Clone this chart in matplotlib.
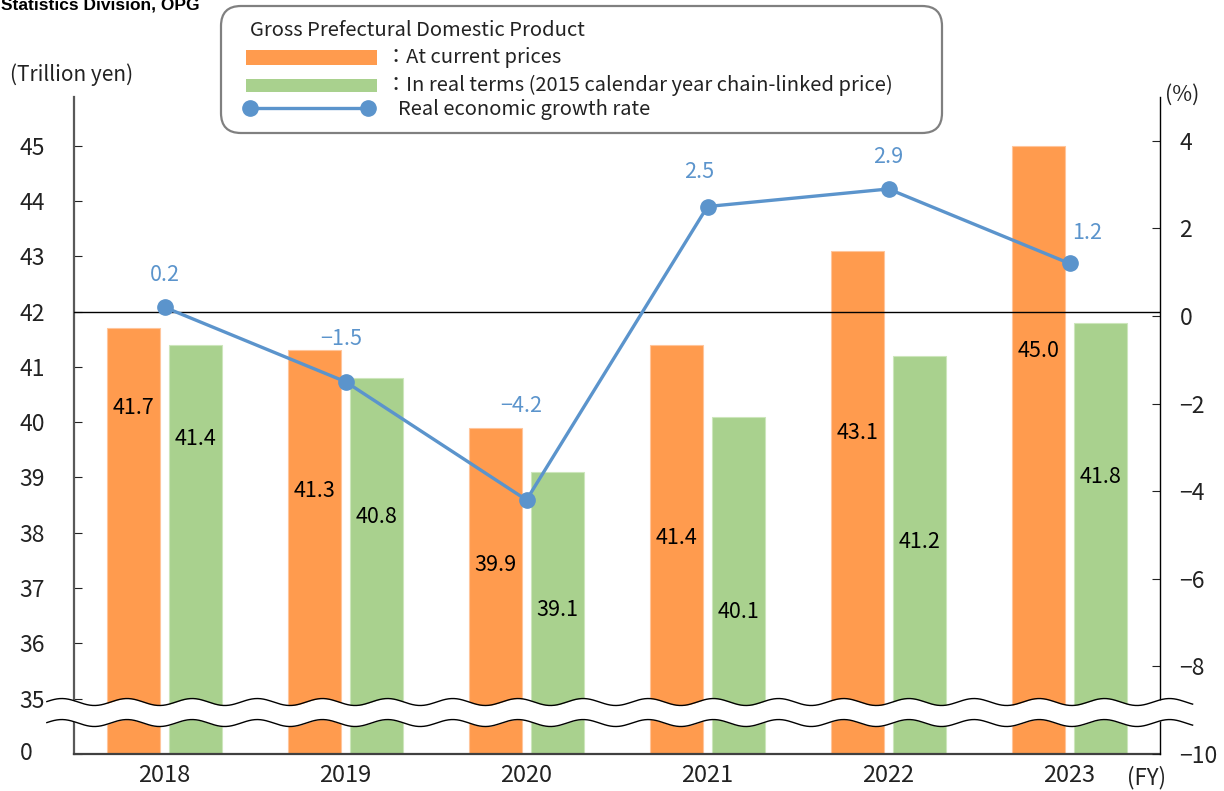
import numpy as np
import matplotlib.pyplot as plt
import matplotlib.transforms as mtransforms
from matplotlib.patches import FancyBboxPatch, Rectangle
from matplotlib.lines import Line2D

plt.rcParams['font.family'] = ['Noto Sans CJK JP', 'DejaVu Sans']

years = ["2018", "2019", "2020", "2021", "2022", "2023"]
nominal = [41.7, 41.3, 39.9, 41.4, 43.1, 45.0]
real = [41.4, 40.8, 39.1, 40.1, 41.2, 41.8]
growth = [0.2, -1.5, -4.2, 2.5, 2.9, 1.2]

# where the value labels sit inside the bars (left-axis units)
nominal_label_y = [40.26, 38.75, 37.42, 37.91, 39.81, 41.28]
real_label_y = [39.70, 38.29, 36.61, 36.56, 37.84, 39.00]
# offsets (points) of the growth labels from their markers
growth_label_off = [(0, 23), (-3, 31), (-4, 68), (-6, 25), (0, 23), (13, 22)]

ORANGE = "#FF9B4E"
GREEN = "#A9D18E"
BLUE = "#5B94CC"

BREAK = 34  # the "0" of the broken left axis sits here

W, H = 1224, 791


def px(x, y):
    return x / W, 1 - y / H


def minus(s):
    return s.replace("-", "\u2212")


fig = plt.figure(figsize=(W / 100, H / 100), dpi=100)
ax = fig.add_axes([74 / W, 1 - 754 / H, (1160 - 74) / W, (754 - 97) / H])
ax2 = ax.twinx()

x = np.arange(len(years))
bw = 0.295
off = 0.17

ax.bar(x - off, np.array(nominal) - BREAK, bw, bottom=BREAK, color=ORANGE,
       edgecolor="#FFC59B", linewidth=0.8, zorder=2)
ax.bar(x + off, np.array(real) - BREAK, bw, bottom=BREAK, color=GREEN,
       edgecolor="#CDE6BC", linewidth=0.8, zorder=2)

for i in range(len(years)):
    ax.text(x[i] - off, nominal_label_y[i], f"{nominal[i]:.1f}", ha="center",
            va="center", fontsize=15.5, zorder=4)
    ax.text(x[i] + off, real_label_y[i], f"{real[i]:.1f}", ha="center",
            va="center", fontsize=15.5, zorder=4)

ax.axhline(42, color="black", lw=1, zorder=3)

ax.set_xlim(-0.5, len(years) - 0.5)
ax.set_ylim(BREAK, 45.88)
ax.set_yticks([BREAK] + list(range(35, 46)))
ax.set_yticklabels([""] + [str(v) for v in range(35, 46)])
ax.set_xticks(x)
ax.set_xticklabels(years)
ax.tick_params(axis="y", direction="in", length=6, pad=21, labelsize=16.5,
               colors="#222222")
ax.tick_params(axis="x", length=0, pad=7, labelsize=17, colors="#222222")

for s in ["top", "right"]:
    ax.spines[s].set_visible(False)
ax.spines["left"].set_color("#595959")
ax.spines["left"].set_linewidth(1.6)
ax.spines["bottom"].set_color("#404040")
ax.spines["bottom"].set_linewidth(1.6)

ax2.plot(x, growth, color=BLUE, lw=2.4, marker="o", markersize=11, zorder=5)
for i, g in enumerate(growth):
    ax2.annotate(minus(f"{g:.1f}"), (x[i], g), xytext=growth_label_off[i],
                 textcoords="offset points", ha="center", va="center",
                 color=BLUE, fontsize=15.5)
ax2.set_ylim(-10, 5)
ax2.set_yticks(range(-10, 5, 2))
ax2.set_yticklabels([minus(str(v)) for v in range(-10, 5, 2)])
ax2.tick_params(axis="y", direction="in", length=6, pad=14, labelsize=16.5,
                colors="#222222")
for s in ["top", "left", "bottom"]:
    ax2.spines[s].set_visible(False)
ax2.spines["right"].set_color("black")
ax2.spines["right"].set_linewidth(1)

# wavy axis break across the plot
tr = mtransforms.blended_transform_factory(ax2.transAxes, ax.transData)
xs = np.linspace(-0.025, 1.03, 800)
wave = 0.063 * np.sin(2 * np.pi * xs / 0.06 - 3.54)
top = 34.94 + wave
bot = 34.56 + wave
ax2.fill_between(xs, bot, top, color="white", transform=tr, clip_on=False,
                 zorder=10, lw=0)
ax2.plot(xs, top, color="black", lw=1, transform=tr, clip_on=False, zorder=11)
ax2.plot(xs, bot, color="black", lw=1, transform=tr, clip_on=False, zorder=11)

# axis captions
fig.text(*px(20, 754), "0", ha="left", va="center", fontsize=16.5,
         color="#222222")
fig.text(*px(10, 75), "(Trillion yen)", ha="left", va="center", fontsize=15,
         color="#222222")
fig.text(*px(1165, 95), "(%)", ha="left", va="center", fontsize=15.5,
         color="#222222")
fig.text(*px(1127, 778), "(FY)", ha="left", va="center", fontsize=16,
         color="#222222")
fig.text(*px(1, 10), "Statistics Division, OPG", ha="left", va="baseline",
         fontsize=12.5, fontweight="bold", family="Liberation Sans")

# hand-made legend box
box = FancyBboxPatch((2.21, (H - 133) / 100), 7.21, 1.27,
                     boxstyle="round,pad=0,rounding_size=0.2",
                     transform=fig.dpi_scale_trans, facecolor="white",
                     edgecolor="#808080", lw=1.6, zorder=20)
fig.patches.append(box)
fig.text(*px(250, 31), "Gross Prefectural Domestic Product", ha="left",
         va="center", fontsize=14.5, color="#222222", zorder=21)
fig.patches.append(Rectangle(px(246, 65), 131 / W, 15 / H, facecolor=ORANGE,
                             transform=fig.transFigure, zorder=21))
fig.text(*px(386, 58), "\uff1aAt current prices", ha="left", va="center",
         fontsize=14.5, color="#222222", zorder=21)
fig.patches.append(Rectangle(px(246, 92), 131 / W, 13 / H, facecolor=GREEN,
                             transform=fig.transFigure, zorder=21))
fig.text(*px(386, 85),
         "\uff1aIn real terms (2015 calendar year chain-linked price)",
         ha="left", va="center", fontsize=14.5, color="#222222", zorder=21)
lx0, ly0 = px(250, 108)
lx1, _ = px(368, 108)
fig.lines.append(Line2D([lx0, lx1], [ly0, ly0], color=BLUE, lw=2.4,
                        marker="o", markersize=11, transform=fig.transFigure,
                        zorder=21))
fig.text(*px(398, 110), "Real economic growth rate", ha="left", va="center",
         fontsize=14.5, color="#222222", zorder=21)

fig.savefig("out.png", dpi=100)
